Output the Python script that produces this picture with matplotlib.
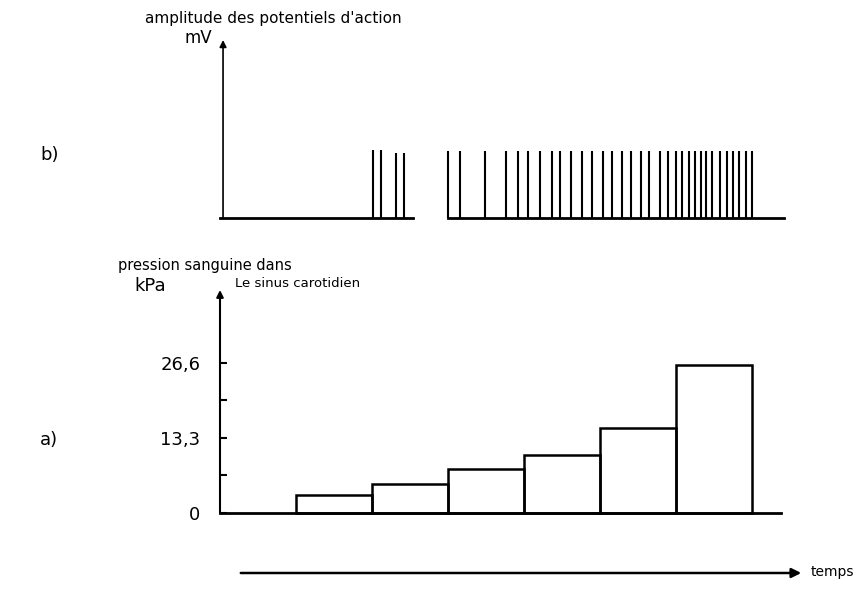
import numpy as np
import matplotlib
matplotlib.use("Agg")
import matplotlib.pyplot as plt

# time is in "steps" (one step = duration of one pressure level)
spike_times_1 = [2.01, 2.12, 2.32, 2.42]
spike_amps_1 = [1.0, 1.0, 0.96, 0.96]
spike_times_2 = [3.0, 3.16, 3.49, 3.76, 3.92, 4.05, 4.21, 4.37, 4.47, 4.62, 4.76,
                 4.89, 5.04, 5.16, 5.28, 5.41, 5.54, 5.64, 5.79, 5.89, 6.0, 6.08,
                 6.17, 6.25, 6.32, 6.39, 6.47, 6.57, 6.66, 6.74, 6.83, 6.92, 7.0]
trace_segments = [(0.0, 2.54), (3.0, 7.42)]

step_starts = [1, 2, 3, 4, 5, 6]
pressure_kpa = [3.2, 5.1, 7.8, 10.3, 15.1, 26.3]
pressure_ticks = [0, 13.3, 26.6]
pressure_tick_labels = ["0", "13,3", "26,6"]
pressure_minor = [6.65, 19.95]

W, H = 856, 591
fig = plt.figure(figsize=(W / 100, H / 100), dpi=100)

def px_box(left, top, right, bottom):
    return [left / W, 1 - bottom / H, (right - left) / W, (bottom - top) / H]

# b) action potentials
ax_b = fig.add_axes(px_box(220, 40, 798, 218))
ax_b.set_xlim(0, 7.6)
ax_b.set_ylim(0, 2.62)
for a, b in trace_segments:
    ax_b.plot([a, b], [0, 0], color="black", lw=2, clip_on=False)
amps_2 = np.full(len(spike_times_2), 0.98)
ax_b.vlines(spike_times_1, 0, spike_amps_1, color="black", lw=1.5, clip_on=False)
ax_b.vlines(spike_times_2, 0, amps_2, color="black", lw=1.5, clip_on=False)
ax_b.annotate("", xy=(0.04, 2.62), xytext=(0.04, 0), annotation_clip=False,
              arrowprops=dict(arrowstyle="-|>", color="black", lw=1.2,
                              mutation_scale=10, shrinkA=0, shrinkB=0))
ax_b.axis("off")

# a) blood pressure in carotid sinus
ax_a = fig.add_axes(px_box(220, 290, 798, 513))
ax_a.set_xlim(0, 7.6)
ax_a.set_ylim(0, 39.5)
ax_a.bar(step_starts, pressure_kpa, width=1, align="edge", fill=False,
         edgecolor="black", lw=1.8, clip_on=False)
ax_a.plot([0, 7.37], [0, 0], color="black", lw=2, clip_on=False)
ax_a.annotate("", xy=(0, 39.5), xytext=(0, 0), annotation_clip=False,
              arrowprops=dict(arrowstyle="-|>", color="black", lw=1.5,
                              mutation_scale=10, shrinkA=0, shrinkB=0))
for s in ax_a.spines.values():
    s.set_visible(False)
ax_a.set_xticks([])
ax_a.set_yticks(pressure_ticks)
ax_a.set_yticklabels(pressure_tick_labels, fontsize=13)
ax_a.set_yticks(pressure_minor, minor=True)
ax_a.tick_params(axis="y", which="both", direction="in", length=5, width=1.5, pad=14)

# labels
fig.text(145 / W, 1 - 18 / H, "amplitude des potentiels d'action", fontsize=11,
         ha="left", va="center")
fig.text(198 / W, 1 - 38 / H, "mV", fontsize=12, ha="center", va="center")
fig.text(40 / W, 1 - 155 / H, "b)", fontsize=13, ha="left", va="center")
fig.text(40 / W, 1 - 440 / H, "a)", fontsize=13, ha="left", va="center")
fig.text(118 / W, 1 - 266 / H, "pression sanguine dans", fontsize=10.5,
         ha="left", va="center")
fig.text(150 / W, 1 - 286 / H, "kPa", fontsize=13, ha="center", va="center")
fig.text(235 / W, 1 - 283 / H, "Le sinus carotidien", fontsize=9.5,
         ha="left", va="center")

fig.patches.append(matplotlib.patches.FancyArrowPatch(
    (238 / W, 1 - 573 / H), (804 / W, 1 - 573 / H), transform=fig.transFigure,
    arrowstyle="-|>", mutation_scale=14, color="black", lw=1.8))
fig.text(811 / W, 1 - 572 / H, "temps", fontsize=10, ha="left", va="center")

fig.savefig("out.png", dpi=100, facecolor="white")
